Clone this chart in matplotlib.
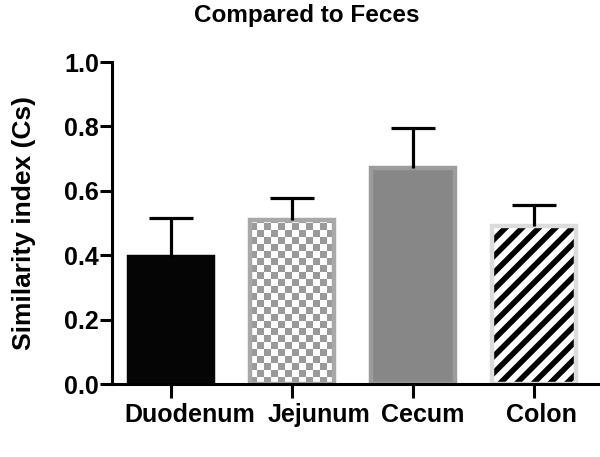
#!/usr/bin/env python3
"""Similarity index bar chart: intestinal sections compared to feces."""

import numpy as np
import matplotlib
matplotlib.use("Agg")
import matplotlib.pyplot as plt
from matplotlib.colors import ListedColormap
from matplotlib.transforms import ScaledTranslation

# --------------------------------------------------------------------------- #
# Data
# --------------------------------------------------------------------------- #
CATEGORIES = ["Duodenum", "Jejunum", "Cecum", "Colon"]
MEANS = [0.395, 0.51, 0.67, 0.49]
ERRORS = [0.122, 0.068, 0.126, 0.066]
Y_TICKS = [0.0, 0.2, 0.4, 0.6, 0.8, 1.0]

TITLE = "Compared to Feces"
Y_LABEL = "Similarity index (Cs)"

# Styling
FONT = ["Liberation Sans", "Arial", "DejaVu Sans"]
FIG_W, FIG_H, DPI = 6.0, 4.57, 100
BAR_WIDTH = 0.69
SPINE_W = 2.2
LABEL_SHIFT_PX = [19, 27, 10, 7]   # GraphPad nudges the long labels right


def checker_fill(ax, bar, n_cols=12, colors=("#9a9a9a", "#ffffff")):
    """Fill a bar with a checkerboard, clipped to the bar outline."""
    x0, w, h = bar.get_x(), bar.get_width(), bar.get_height()
    # square cells in pixel space
    p0 = ax.transData.transform((x0, 0))
    p1 = ax.transData.transform((x0 + w, h))
    cell_px = (p1[0] - p0[0]) / n_cols
    n_rows = int(np.ceil((p1[1] - p0[1]) / cell_px))
    yy, xx = np.mgrid[0:n_rows, 0:n_cols]
    board = (xx + yy) % 2
    top = h * n_rows * cell_px / (p1[1] - p0[1])
    im = ax.imshow(board, cmap=ListedColormap(list(colors)), origin="lower",
                   extent=(x0, x0 + w, 0, top), aspect="auto",
                   interpolation="nearest", zorder=2)
    im.set_clip_path(bar)


def main() -> None:
    plt.rcParams["font.family"] = FONT
    plt.rcParams["font.weight"] = "bold"
    plt.rcParams["hatch.linewidth"] = 4.0

    fig = plt.figure(figsize=(FIG_W, FIG_H), dpi=DPI)
    ax = fig.add_axes([0.1867, 0.1597, 0.8133, 0.7046])
    x = np.arange(len(CATEGORIES))
    ax.set_xlim(-0.488, 3.545)
    ax.set_ylim(0, 1.0)

    faces = ["#050505", "none", "#878787", "none"]
    edges = ["#050505", "#a8a8a8", "#9c9c9c", "#dcdcdc"]

    # striped colon fill: black hatch under a light grey outline
    stripes = ax.bar(x[3], MEANS[3], width=BAR_WIDTH, color="white",
                     edgecolor="black", linewidth=0, hatch="//", zorder=2)
    bars = ax.bar(x, MEANS, width=BAR_WIDTH, color=faces, edgecolor=edges,
                  linewidth=3.2, zorder=3)
    # checkered jejunum fill
    checker_fill(ax, bars[1])
    stripes[0].set_clip_path(bars[3])

    eb = ax.errorbar(x, MEANS, yerr=[np.zeros(len(MEANS)), ERRORS], fmt="none",
                     ecolor="black", elinewidth=2.3, capsize=15.5, capthick=2.3,
                     zorder=4)
    # only the upper cap is shown
    eb.lines[1][0].set_visible(False)

    for side in ("top", "right"):
        ax.spines[side].set_visible(False)
    for side in ("left", "bottom"):
        ax.spines[side].set_linewidth(SPINE_W)
        ax.spines[side].set_zorder(5)

    ax.set_yticks(Y_TICKS)
    ax.set_yticklabels([f"{t:.1f}" for t in Y_TICKS])
    ax.tick_params(axis="y", length=8.5, width=SPINE_W, labelsize=18, pad=1)
    ax.set_xticks(x)
    ax.set_xticklabels(CATEGORIES)
    ax.tick_params(axis="x", length=10, width=SPINE_W, labelsize=18, pad=4)
    for lab, dx in zip(ax.get_xticklabels(), LABEL_SHIFT_PX):
        lab.set_transform(lab.get_transform()
                          + ScaledTranslation(dx / DPI, 0, fig.dpi_scale_trans))

    ax.set_ylabel(Y_LABEL, fontsize=19, fontweight="bold", labelpad=20)
    fig.text(0.512, 0.966, TITLE, ha="center", va="center", fontsize=17.5,
             fontweight="bold")

    fig.savefig("out.png", dpi=DPI)
    plt.close(fig)


if __name__ == "__main__":
    main()
